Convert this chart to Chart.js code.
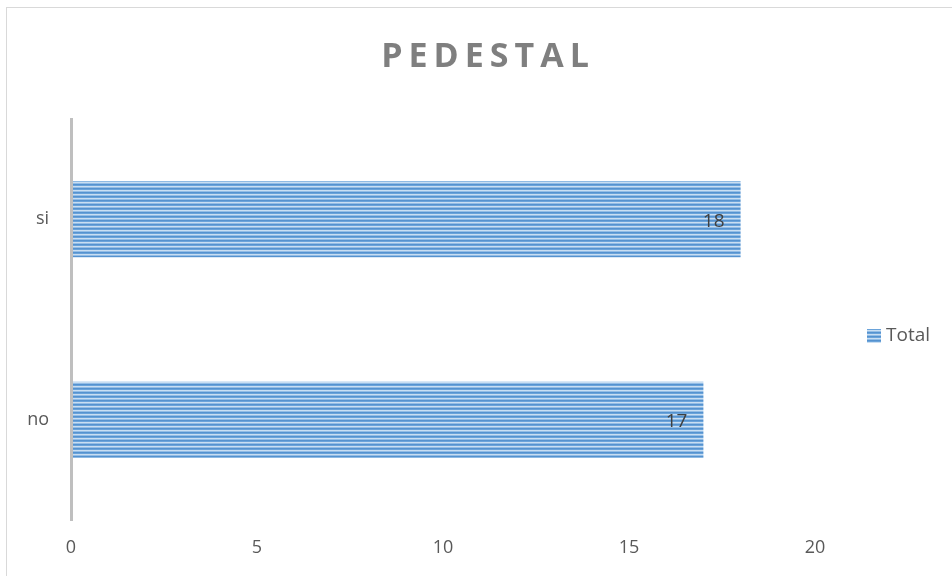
<!DOCTYPE html>
<html>
<head>
<meta charset="utf-8">
<script src="https://cdn.jsdelivr.net/npm/chart.js@4/dist/chart.umd.min.js"></script>
<style>
  body { margin: 0; background: #fff; }
  #wrap { width: 952px; height: 576px; }
</style>
</head>
<body>
<div id="wrap"><canvas id="pedestalChart"></canvas></div>
<script>
// values
let categories = ['si', 'no'];
let totals = [18, 17];
let xTicks = [0, 5, 10, 15, 20];
let seriesName = 'Total';
let chartTitle = 'PEDESTAL';

const FONT = "'Open Sans', 'DejaVu Sans', sans-serif";

// striped fill like the original bars
function stripes() {
    let c = document.createElement('canvas');
    c.width = 4; c.height = 4;
    let g = c.getContext('2d');
    let rows = ['#5592cf', '#6aa3da', '#c9def2', '#93bde6'];
    rows.forEach((col, i) => { g.fillStyle = col; g.fillRect(0, i, 4, 1); });
    return g.createPattern(c, 'repeat');
}
let barFill = stripes();

// frame, title and legend
let decor = {
    id: 'decor',
    beforeDraw(chart) {
        let ctx = chart.ctx;
        ctx.save();
        ctx.strokeStyle = '#d9d9d9';
        ctx.lineWidth = 1;
        ctx.strokeRect(6.5, 7.5, 1000, 1000);
        ctx.restore();
    },
    afterDraw(chart) {
        let ctx = chart.ctx;
        ctx.save();
        ctx.fillStyle = '#7f7f7f';
        ctx.font = 'bold 34px ' + FONT;
        ctx.letterSpacing = '6px';
        ctx.textAlign = 'center';
        ctx.textBaseline = 'middle';
        ctx.fillText(chartTitle, 488, 57);
        ctx.letterSpacing = '0px';

        ctx.fillStyle = barFill;
        ctx.fillRect(867, 329, 14, 14);
        ctx.fillStyle = '#595959';
        ctx.font = '19px ' + FONT;
        ctx.textAlign = 'left';
        ctx.fillText(seriesName, 886, 336);
        ctx.restore();
    }
};

// value labels inside the bar ends
let barValues = {
    id: 'barValues',
    afterDatasetsDraw(chart) {
        let ctx = chart.ctx;
        let meta = chart.getDatasetMeta(0);
        ctx.save();
        ctx.fillStyle = '#404040';
        ctx.font = '19px ' + FONT;
        ctx.textAlign = 'right';
        ctx.textBaseline = 'middle';
        meta.data.forEach((bar, i) => {
            ctx.fillText(String(totals[i]), bar.x - 16, bar.y + 2);
        });
        ctx.restore();
    }
};

let ctx = document.getElementById('pedestalChart');
let pedestalChart = new Chart(ctx, {
    type: 'bar',
    data: {
        labels: categories,
        datasets: [{
            label: seriesName,
            data: totals,
            backgroundColor: barFill,
            borderWidth: 0,
            barPercentage: 0.76,
            categoryPercentage: 0.5
        }]
    },
    options: {
        indexAxis: 'y',
        responsive: true,
        maintainAspectRatio: false,
        animation: false,
        layout: { padding: { top: 119, right: 137, left: 0, bottom: 0 } },
        plugins: {
            legend: { display: false },
            title: { display: false },
            tooltip: { enabled: false }
        },
        scales: {
            x: {
                min: xTicks[0],
                max: xTicks[xTicks.length - 1],
                afterBuildTicks(axis) { axis.ticks = xTicks.map(v => ({ value: v })); },
                afterFit(axis) { axis.height = 56; },
                grid: { display: false, drawTicks: false },
                border: { display: false },
                ticks: { padding: 17, color: '#595959', font: { family: FONT, size: 18 } }
            },
            y: {
                afterFit(axis) { axis.width = 71; },
                grid: { display: false, drawTicks: false },
                border: { display: true, color: '#bfbfbf', width: 3, z: 1 },
                ticks: { padding: 22, color: '#595959', font: { family: FONT, size: 18 } }
            }
        }
    },
    plugins: [decor, barValues]
});
</script>
</body>
</html>
